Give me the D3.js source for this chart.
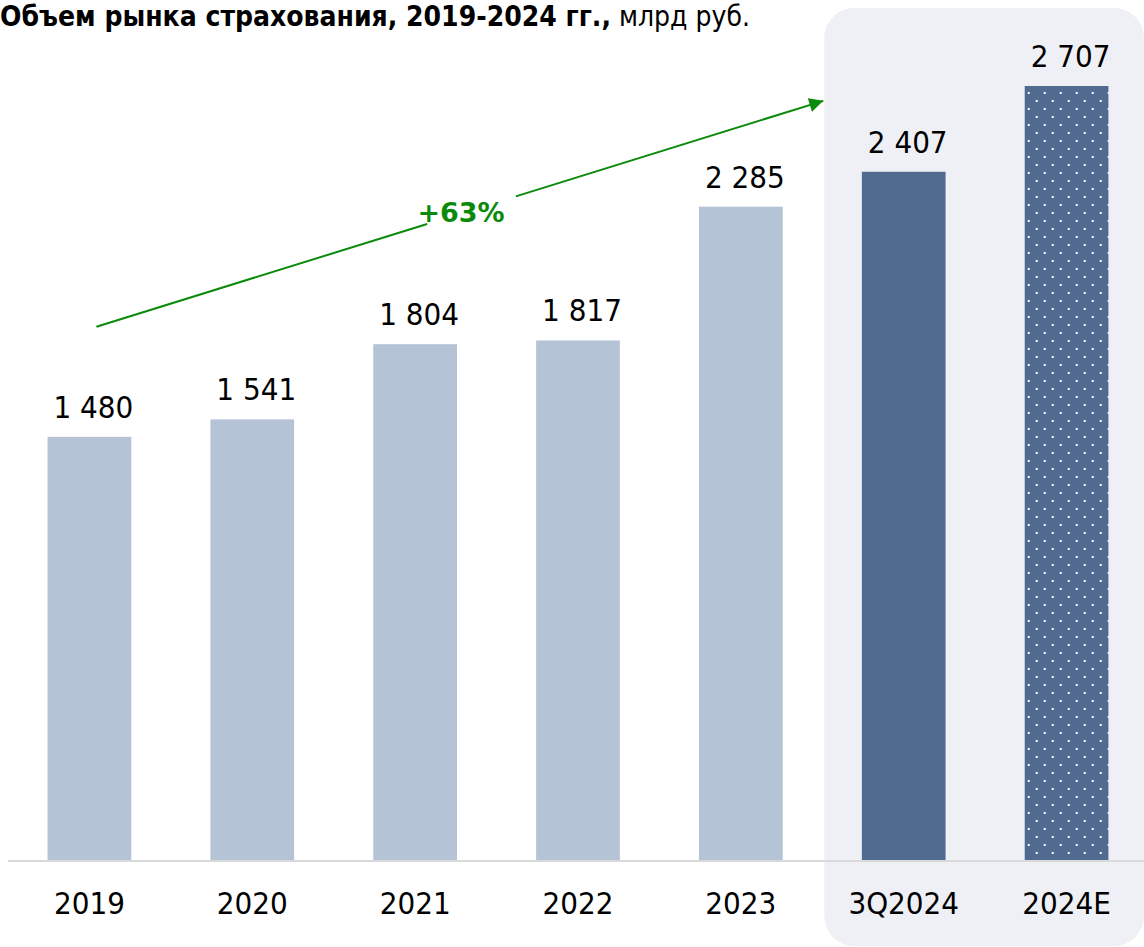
<!DOCTYPE html>
<html>
<head>
<meta charset="utf-8">
<script src="https://cdn.jsdelivr.net/npm/d3@7"></script>
<style>
  html, body { margin: 0; padding: 0; background: #ffffff; }
  svg { display: block; }
  text { font-family: "DejaVu Sans Condensed", "DejaVu Sans", sans-serif; font-stretch: condensed; }
</style>
</head>
<body>
<svg id="chart" width="1144" height="947"></svg>
<script>
// Insurance market volume, bn RUB
const categories = ["2019", "2020", "2021", "2022", "2023", "3Q2024", "2024E"];
const values = [1480, 1541, 1804, 1817, 2285, 2407, 2707];
const barKinds = ["actual", "actual", "actual", "actual", "actual", "current", "estimate"];
const highlighted = ["3Q2024", "2024E"];
const titleBold = "Объем рынка страхования, 2019-2024 гг.,";
const titleUnit = " млрд руб.";
const growthLabel = "+63%";
// Growth arrow endpoints in data units (category / value)
const arrowFrom = { cat: "2019", value: 1865 };
const arrowTo = { cat: "3Q2024", value: 2655 };

const W = 1144, H = 947;
const baseY = 860;

const svg = d3.select("#chart");

const x = d3.scaleBand()
  .domain(categories)
  .range([8, 1148])
  .paddingInner(0.486)
  .paddingOuter(0.243);

const y = d3.scaleLinear()
  .domain([0, 2707])
  .range([baseY, 86]);

const fmt = d3.formatLocale({ decimal: ",", thousands: "\u00a0", grouping: [3], currency: ["", ""] }).format(",d");

const colors = { actual: "#b4c3d6", current: "#516a8f", estimate: "#516a8f" };

// Dotted fill for the estimate bar
const defs = svg.append("defs");
const pat = defs.append("pattern")
  .attr("id", "dots")
  .attr("patternUnits", "userSpaceOnUse")
  .attr("x", x("2024E") + 3).attr("y", 84)
  .attr("width", 16).attr("height", 16);
pat.append("rect").attr("width", 16).attr("height", 16).attr("fill", "#516a8f");
pat.append("rect").attr("x", 8).attr("y", 0).attr("width", 2).attr("height", 2).attr("fill", "#ffffff");
pat.append("rect").attr("x", 0).attr("y", 8).attr("width", 2).attr("height", 2).attr("fill", "#ffffff");

// Highlight panel behind the last two periods
const panelX = x(highlighted[0]) - x.step() * x.paddingInner() / 2 + 2;
svg.append("rect")
  .attr("x", panelX)
  .attr("y", 8)
  .attr("width", W - panelX)
  .attr("height", 938)
  .attr("rx", 30).attr("ry", 30)
  .attr("fill", "#eff0f5");

// Bars
svg.append("g").selectAll("rect")
  .data(categories)
  .join("rect")
  .attr("x", d => x(d))
  .attr("width", x.bandwidth())
  .attr("y", (d, i) => y(values[i]))
  .attr("height", (d, i) => y(0) - y(values[i]))
  .attr("fill", (d, i) => barKinds[i] === "estimate" ? "url(#dots)" : colors[barKinds[i]]);

// Baseline
svg.append("line")
  .attr("x1", 8).attr("x2", W)
  .attr("y1", baseY + 1).attr("y2", baseY + 1)
  .attr("stroke", "#d9d9d9")
  .attr("stroke-width", 2);

// Value labels
svg.append("g").selectAll("text")
  .data(categories)
  .join("text")
  .attr("x", d => x(d) + x.bandwidth() / 2 + 4)
  .attr("y", (d, i) => y(values[i]) - 19)
  .attr("text-anchor", "middle")
  .attr("font-size", 31)
  .attr("fill", "#000")
  .text((d, i) => fmt(values[i]));

// Category axis
const axis = svg.append("g")
  .attr("transform", `translate(0,${baseY})`)
  .call(d3.axisBottom(x).tickSize(0).tickPadding(0));
axis.select(".domain").remove();
axis.selectAll("text")
  .attr("y", 54)
  .attr("dy", 0)
  .attr("font-size", 31)
  .attr("fill", "#000")
  .style("font-family", '"DejaVu Sans Condensed", "DejaVu Sans", sans-serif');

// Growth arrow
const green = "#0a8a0a";
defs.append("marker")
  .attr("id", "arrowhead")
  .attr("viewBox", "0 0 10 10")
  .attr("refX", 10).attr("refY", 5)
  .attr("markerWidth", 12).attr("markerHeight", 7)
  .attr("markerUnits", "strokeWidth")
  .attr("orient", "auto")
  .append("path")
  .attr("d", "M0,0 L10,5 L0,10 z")
  .attr("fill", green);

const ax0 = x(arrowFrom.cat) + x.bandwidth() / 2 + 7, ay0 = y(arrowFrom.value);
const ax1 = panelX - 1, ay1 = y(arrowTo.value);
const tGap0 = 0.455, tGap1 = 0.577;
const lerp = (a, b, t) => a + (b - a) * t;
svg.append("line")
  .attr("x1", ax0).attr("y1", ay0)
  .attr("x2", lerp(ax0, ax1, tGap0)).attr("y2", lerp(ay0, ay1, tGap0))
  .attr("stroke", green).attr("stroke-width", 2);
svg.append("line")
  .attr("x1", lerp(ax0, ax1, tGap1)).attr("y1", lerp(ay0, ay1, tGap1))
  .attr("x2", ax1).attr("y2", ay1)
  .attr("stroke", green).attr("stroke-width", 2)
  .attr("marker-end", "url(#arrowhead)");
svg.append("text")
  .attr("x", lerp(ax0, ax1, 0.503) - 1)
  .attr("y", lerp(ay0, ay1, 0.503) + 9)
  .attr("text-anchor", "middle")
  .attr("font-size", 27)
  .attr("font-weight", "bold")
  .attr("fill", green)
  .style("font-family", '"DejaVu Sans", sans-serif')
  .style("font-stretch", "normal")
  .text(growthLabel);

// Title
const title = svg.append("text")
  .attr("x", 0).attr("y", 26)
  .attr("font-size", 28)
  .attr("fill", "#000");
title.append("tspan").attr("font-weight", "bold").text(titleBold);
title.append("tspan").attr("font-weight", "normal").text(titleUnit);
</script>
</body>
</html>
